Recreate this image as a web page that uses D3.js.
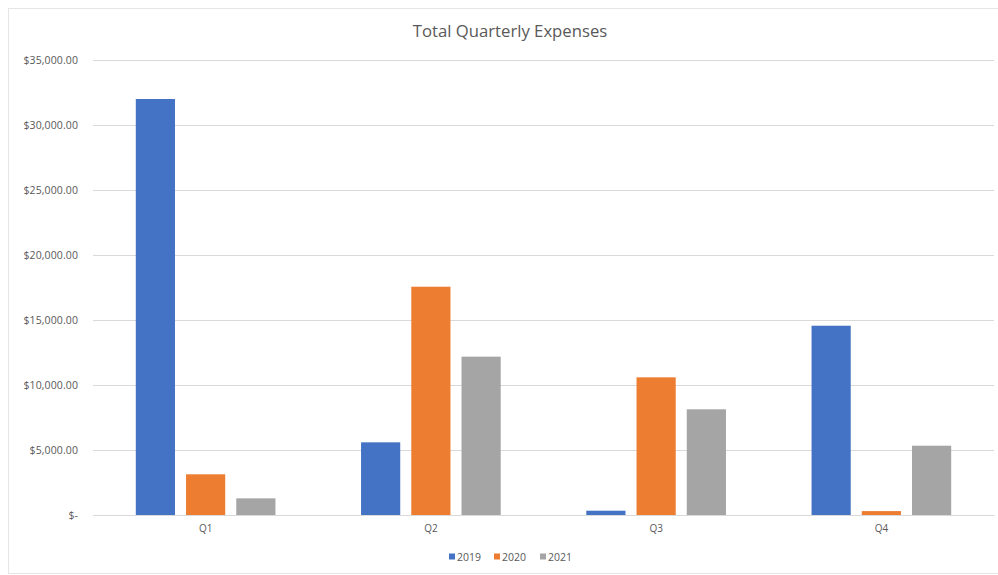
<!DOCTYPE html>
<html><head><meta charset="utf-8">
<script src="https://cdn.jsdelivr.net/npm/d3@7"></script>
<style>body{margin:0;background:#fff;}svg{display:block;}</style>
</head><body>
<svg id="chart" width="998" height="575"></svg>
<script>
const title = "Total Quarterly Expenses";
const categories = ["Q1", "Q2", "Q3", "Q4"];
const seriesNames = ["2019", "2020", "2021"];
const values2019 = [32000, 5590, 330, 14560];
const values2020 = [3130, 17560, 10590, 300];
const values2021 = [1280, 12180, 8130, 5330];
const yTicks = [0, 5000, 10000, 15000, 20000, 25000, 30000, 35000];
const colors = ["#4472C4", "#ED7D31", "#A5A5A5"];

(function () {
const seriesValues = [values2019, values2020, values2021];
const svg = d3.select("#chart");
const font = "'Open Sans', 'Liberation Sans', sans-serif";

svg.append("rect").attr("x", 8.5).attr("y", 8.5).attr("width", 995).attr("height", 565)
  .attr("fill", "#fff").attr("stroke", "#e6e6e6");

const pLeft = 93, pRight = 994, pTop = 60, pBottom = 515;
const x = d3.scaleBand().domain(categories).range([pLeft, pRight]).paddingInner(0.38).paddingOuter(0.19);
const x1 = d3.scaleBand().domain(seriesNames).range([0, x.bandwidth()]).paddingInner(0.22);
const y = d3.scaleLinear().domain([0, 35000]).range([pBottom, pTop]);

const fmt = v => v === 0 ? "$-" : "$" + d3.format(",.2f")(v);

const yAxis = svg.append("g").attr("transform", `translate(${pLeft},0)`)
  .call(d3.axisLeft(y).tickValues(yTicks).tickSize(-(pRight - pLeft)).tickFormat(fmt).tickPadding(15));
yAxis.select(".domain").remove();
yAxis.selectAll(".tick line").attr("stroke", "#d9d9d9");
yAxis.selectAll(".tick text").attr("fill", "#595959").style("font-family", font).style("font-size", "10.5px")
  .style("letter-spacing", "0.1px");

const groups = svg.append("g").selectAll("g").data(categories).join("g")
  .attr("transform", d => `translate(${x(d)},0)`);
groups.selectAll("rect").data((c, i) => seriesNames.map((s, j) => ({s, j, v: seriesValues[j][i]})))
  .join("rect")
  .attr("x", d => x1(d.s)).attr("width", x1.bandwidth())
  .attr("y", d => y(d.v)).attr("height", d => y(0) - y(d.v))
  .attr("fill", d => colors[d.j]);

const xAxis = svg.append("g").attr("transform", `translate(0,${pBottom})`)
  .call(d3.axisBottom(x).tickSize(0).tickPadding(10));
xAxis.select(".domain").attr("stroke", "#d9d9d9");
xAxis.selectAll(".tick text").attr("fill", "#595959").style("font-family", font).style("font-size", "10px");

svg.append("text").attr("x", 510).attr("y", 37).attr("text-anchor", "middle")
  .attr("fill", "#595959").style("font-family", font).style("font-size", "16.7px").text(title);

const legendX = [449, 494, 540];
const legend = svg.append("g").selectAll("g").data(seriesNames).join("g")
  .attr("transform", (d, i) => `translate(${legendX[i]},557)`);
legend.append("rect").attr("x", 0).attr("y", -3.5).attr("width", 6).attr("height", 6).attr("fill", (d, i) => colors[i]);
legend.append("text").attr("x", 8).attr("y", 0).attr("dy", "0.35em").attr("fill", "#595959")
  .style("font-family", font).style("font-size", "10.5px").text(d => d);
})();
</script>
</body></html>
